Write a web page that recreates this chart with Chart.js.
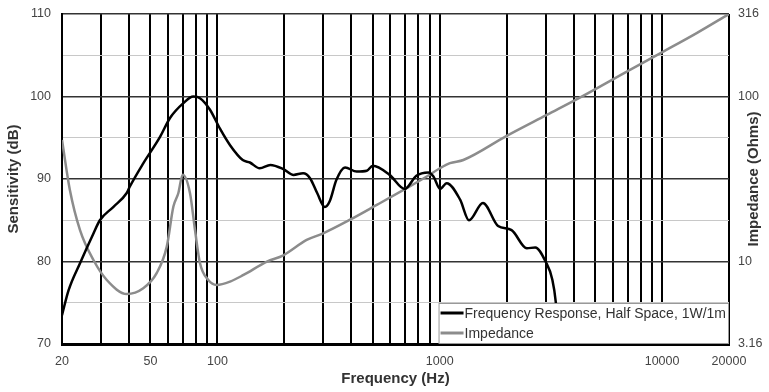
<!DOCTYPE html>
<html>
<head>
<meta charset="utf-8">
<script src="https://cdn.jsdelivr.net/npm/chart.js@4/dist/chart.umd.min.js"></script>
<style>
  body { margin: 0; background: #fff; }
  #wrap { width: 769px; height: 392px; }
</style>
</head>
<body>
<div id="wrap"><canvas id="chart" width="769" height="392"></canvas></div>
<script>
// frequency response, half space 1W/1m (dB)
const respFreq = [20, 21.4, 24.1, 27.7, 29.6, 34, 39.1, 40.4, 46.4, 55.2, 61.2, 70.3, 77.9, 83.5, 92.6, 102.7,
    114, 130, 140, 155, 173, 198, 220, 243, 261, 281, 304, 320, 343, 375, 423, 470, 500, 595, 696, 785, 889, 937,
    1004, 1075, 1235, 1354, 1564, 1830, 2105, 2464, 2690, 2992, 3210, 3325, 3450];
const respDb = [73.5, 76.5, 79.8, 83.4, 85.0, 86.6, 88.3, 89.1, 91.9, 95.1, 97.4, 99.2, 100.0, 99.8, 98.4, 96.1,
    94.1, 92.3, 92.0, 91.3, 91.7, 91.2, 90.5, 90.7, 90.1, 88.3, 86.6, 87.3, 89.9, 91.4, 90.9, 91.0, 91.6, 90.5, 88.8, 90.4, 90.8, 90.3,
    88.8, 89.5, 87.5, 85.0, 87.1, 84.3, 83.8, 81.6, 81.7, 80.0, 77.8, 75.1, 69.0];

// impedance (Ohms)
const impFreq = [20, 21.7, 24.1, 27.7, 31.8, 39.1, 46.4, 53.3, 59.2, 63.4, 66.7, 69.8, 75.3, 79.3, 83.5, 91, 99.3,
    114, 131, 167, 198, 252, 299, 395, 521, 710, 874, 1002, 1112, 1277, 2000, 3028, 4350, 7172, 10130, 14310, 20000];
const impOhm = [54.5, 27.1, 15.5, 10.2, 7.72, 6.35, 6.88, 8.49, 12.3, 21.5, 25.9, 33.5, 25.9, 15.5, 9.75, 7.72, 7.21,
    7.55, 8.28, 9.98, 10.9, 13.5, 14.8, 17.9, 22.0, 27.8, 32.7, 36.7, 39.4, 41.2, 57.7, 77.3, 99.8, 145, 187, 242, 316];

const xGridVals = [20, 30, 40, 50, 60, 70, 80, 90, 100, 200, 300, 400, 500, 600, 700, 800, 900,
    1000, 2000, 3000, 4000, 5000, 6000, 7000, 8000, 9000, 10000, 20000];
const xLabelVals = [20, 50, 100, 1000, 10000, 20000];
const impTickVals = [3.16, 10, 100, 316];

const FONT = 'Liberation Sans, Arial, sans-serif';

const toPoints = (xs, ys) => xs.map((x, i) => ({ x: x, y: ys[i] }));

const insideLegend = {
    id: 'insideLegend',
    afterDraw(chart) {
        const ctx = chart.ctx;
        const area = chart.chartArea;
        ctx.save();
        ctx.font = '14px ' + FONT;
        const sets = chart.data.datasets;
        let textW = 0;
        sets.forEach(ds => { textW = Math.max(textW, ctx.measureText(ds.label).width); });
        const boxW = textW + 29;
        const boxH = 40;
        const bx = area.right - boxW;
        const by = area.bottom - boxH - 1;
        ctx.fillStyle = '#fff';
        ctx.fillRect(bx, by, boxW, boxH);
        ctx.strokeStyle = '#999';
        ctx.lineWidth = 1;
        ctx.strokeRect(bx + 0.5, by + 0.5, boxW - 1, boxH);
        sets.forEach((ds, i) => {
            const y = by + 10 + i * 20;
            ctx.strokeStyle = ds.borderColor;
            ctx.lineWidth = 3;
            ctx.beginPath();
            ctx.moveTo(bx + 2, y);
            ctx.lineTo(bx + 25, y);
            ctx.stroke();
            ctx.fillStyle = '#333';
            ctx.textBaseline = 'middle';
            ctx.textAlign = 'left';
            ctx.fillText(ds.label, bx + 26, y + 1);
        });
        // right axis title, reading bottom to top
        ctx.font = 'bold 15px ' + FONT;
        ctx.fillStyle = '#333';
        ctx.textAlign = 'center';
        ctx.textBaseline = 'middle';
        ctx.translate(chart.width - 15, (area.top + area.bottom) / 2);
        ctx.rotate(-Math.PI / 2);
        ctx.fillText('Impedance (Ohms)', 0, 0);
        ctx.restore();
    }
};

const fitVertical = w => s => {
    s.width = w;
    s.paddingTop = 0;
    s.paddingBottom = 0;
};

new Chart(document.getElementById('chart'), {
    type: 'line',
    data: {
        datasets: [
            {
                label: 'Frequency Response, Half Space, 1W/1m',
                data: toPoints(respFreq, respDb),
                yAxisID: 'y',
                borderColor: '#000',
                borderWidth: 2.5,
                pointRadius: 0,
                cubicInterpolationMode: 'monotone',
            },
            {
                label: 'Impedance',
                data: toPoints(impFreq, impOhm),
                yAxisID: 'y1',
                borderColor: '#8c8c8c',
                borderWidth: 2.5,
                pointRadius: 0,
                cubicInterpolationMode: 'monotone',
            },
        ],
    },
    options: {
        responsive: false,
        animation: false,
        layout: { padding: { top: 14 } },
        plugins: {
            legend: { display: false },
            tooltip: { enabled: false },
        },
        scales: {
            x: {
                type: 'logarithmic',
                min: 20,
                max: 20000,
                afterBuildTicks: s => { s.ticks = xGridVals.map(v => ({ value: v })); },
                afterFit: s => { s.height = 48; s.paddingLeft = 0; s.paddingRight = 0; },
                ticks: {
                    autoSkip: false,
                    maxRotation: 0,
                    padding: 10,
                    color: '#444',
                    font: { family: FONT, size: 12.5 },
                    callback: v => xLabelVals.includes(v) ? String(v) : '',
                },
                grid: { color: '#000', lineWidth: 2, drawTicks: false },
                border: { color: '#000', width: 3 },
                title: {
                    display: true,
                    text: 'Frequency (Hz)',
                    color: '#333',
                    font: { family: FONT, size: 15, weight: 'bold' },
                    padding: { top: 4, bottom: 4 },
                },
            },
            y: {
                position: 'left',
                min: 70,
                max: 110,
                afterFit: fitVertical(62),
                ticks: {
                    stepSize: 5,
                    padding: 11,
                    color: '#444',
                    font: { family: FONT, size: 12.5 },
                    callback: v => v % 10 === 0 ? String(v) : '',
                },
                grid: {
                    drawTicks: false,
                    color: c => c.tick && c.tick.value % 10 === 0 ? '#333' : '#c8c8c8',
                    lineWidth: c => c.tick && c.tick.value % 10 === 0 ? 1.5 : 1,
                },
                border: { color: '#000', width: 2 },
                title: {
                    display: true,
                    text: 'Sensitivity (dB)',
                    color: '#333',
                    font: { family: FONT, size: 15, weight: 'bold' },
                    padding: { top: 5, bottom: 4 },
                },
            },
            y1: {
                type: 'logarithmic',
                position: 'right',
                min: 3.16,
                max: 316,
                afterBuildTicks: s => { s.ticks = impTickVals.map(v => ({ value: v })); },
                afterFit: fitVertical(40),
                ticks: {
                    padding: 9,
                    color: '#444',
                    font: { family: FONT, size: 12.5 },
                    callback: v => String(v),
                },
                grid: { display: false, drawTicks: false },
                border: { display: false },
            },
        },
    },
    plugins: [insideLegend],
});
</script>
</body>
</html>
